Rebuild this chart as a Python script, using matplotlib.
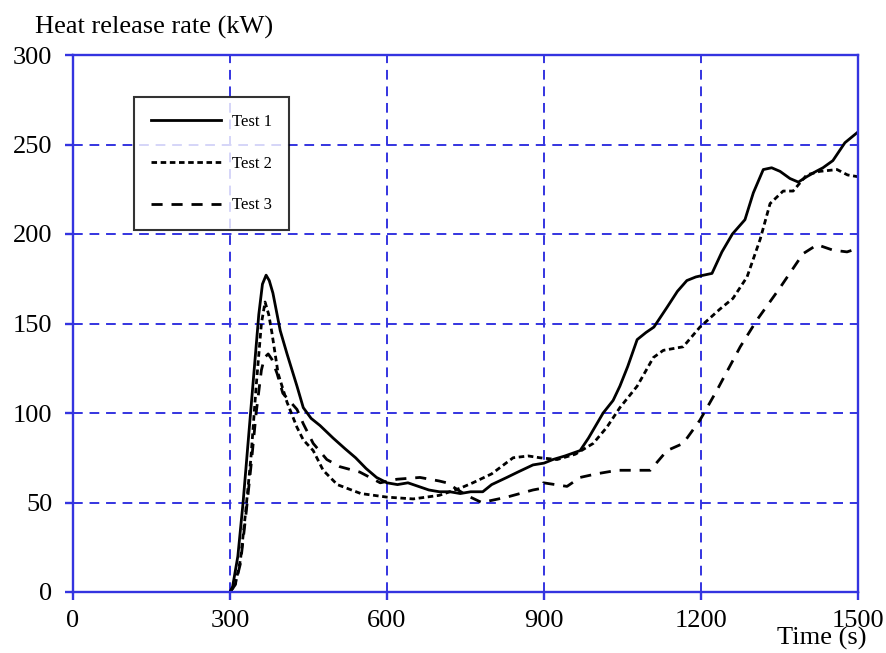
import matplotlib
matplotlib.use("Agg")
import matplotlib.pyplot as plt

t1 = [300, 305, 315, 325, 335, 345, 355, 362, 369, 375, 382, 396, 409, 428, 440, 455, 472, 497, 520, 540, 560, 580, 600, 620, 640, 660, 680, 700, 720, 740, 760, 783, 800, 829, 850, 879, 900, 917, 940, 969, 985, 1001, 1013, 1032, 1045, 1060, 1078, 1095, 1110, 1135, 1155, 1173, 1190, 1205, 1221, 1240, 1260, 1284, 1300, 1319, 1335, 1351, 1370, 1386, 1402, 1420, 1433, 1452, 1475, 1500]
v1 = [0, 3, 20, 50, 85, 120, 155, 172, 177, 174, 167, 146, 133, 115, 103, 97, 93, 86, 80, 75, 69, 64, 61, 60, 61, 59, 57, 56, 56, 55, 56, 56, 60, 64, 67, 71, 72, 74, 76, 79, 86, 94, 100, 107, 115, 126, 141, 145, 148, 159, 168, 174, 176, 177, 178, 190, 200, 208, 223, 236, 237, 235, 231, 229, 232, 235, 237, 241, 251, 257]

t2 = [300, 310, 320, 330, 340, 350, 360, 367, 374, 380, 392, 409, 428, 440, 459, 478, 505, 550, 600, 650, 700, 740, 764, 800, 841, 870, 892, 925, 960, 994, 1020, 1045, 1078, 1109, 1128, 1166, 1198, 1236, 1261, 1288, 1313, 1332, 1357, 1376, 1402, 1427, 1460, 1480, 1500]
v2 = [0, 4, 18, 45, 75, 115, 150, 162, 155, 145, 122, 106, 92, 85, 79, 68, 60, 55, 53, 52, 54, 58, 61, 66, 75, 76, 75, 74, 77, 83, 92, 103, 115, 131, 135, 137, 148, 158, 164, 176, 197, 217, 224, 224, 233, 235, 236, 233, 232]

t3 = [300, 310, 320, 330, 340, 350, 360, 366, 373, 380, 390, 401, 428, 440, 459, 485, 510, 548, 587, 619, 663, 700, 714, 752, 781, 829, 879, 897, 899, 944, 969, 1000, 1040, 1103, 1135, 1166, 1198, 1231, 1275, 1307, 1351, 1395, 1422, 1452, 1479, 1500]
v3 = [0, 4, 16, 42, 70, 100, 124, 131, 133, 130, 122, 111, 102, 94, 83, 74, 70, 67, 61, 63, 64, 62, 61, 54, 50, 53, 57, 58, 61, 59, 64, 66, 68, 68, 79, 83, 96, 113, 137, 152, 170, 189, 194, 191, 190, 192]

series_labels = ["Test 1", "Test 2", "Test 3"]
x_ticks = [0, 300, 600, 900, 1200, 1500]
y_ticks = [0, 50, 100, 150, 200, 250, 300]

plt.rcParams['font.family'] = ['Liberation Serif', 'DejaVu Serif']

blue = '#3434e0'
fig = plt.figure(figsize=(8.86, 6.53), dpi=100)
ax = fig.add_axes([73/886, 1 - 592/653, (858-73)/886, (592-55)/653])

ax.plot(t1, v1, color='black', lw=2.0, linestyle='-', label=series_labels[0])
ax.plot(t2, v2, color='black', lw=2.0, linestyle=(0, (2.0, 1.3)), label=series_labels[1])
ax.plot(t3, v3, color='black', lw=2.0, linestyle=(0, (4.0, 3.2)), label=series_labels[2])

ax.set_xlim(0, 1500)
ax.set_ylim(0, 300)
ax.set_xticks(x_ticks)
ax.set_yticks(y_ticks)
ax.grid(True, color=blue, linestyle=(0, (5, 3.5)), lw=1.4)
for s in ax.spines.values():
    s.set_color(blue)
    s.set_linewidth(1.7)
ax.tick_params(axis='both', direction='out', color=blue, width=1.7, length=6,
               labelsize=19)
ax.tick_params(axis='x', pad=7)
ax.tick_params(axis='y', pad=9)

fig.text(35/886, 1 - 27/653, 'Heat release rate (kW)', fontsize=19, ha='left', va='center')
fig.text(822/886, 1 - 638/653, 'Time (s)', fontsize=19, ha='center', va='center')

leg = ax.legend(loc='upper left', bbox_to_anchor=((134-73)/785, 1 - (97-55)/537),
                fontsize=12, frameon=True, fancybox=False, edgecolor='black',
                handlelength=4.2, labelspacing=1.55, borderpad=1.0, handletextpad=0.7,
                borderaxespad=0)
leg.get_frame().set_linewidth(1.5)

fig.savefig('out.png', dpi=100)
